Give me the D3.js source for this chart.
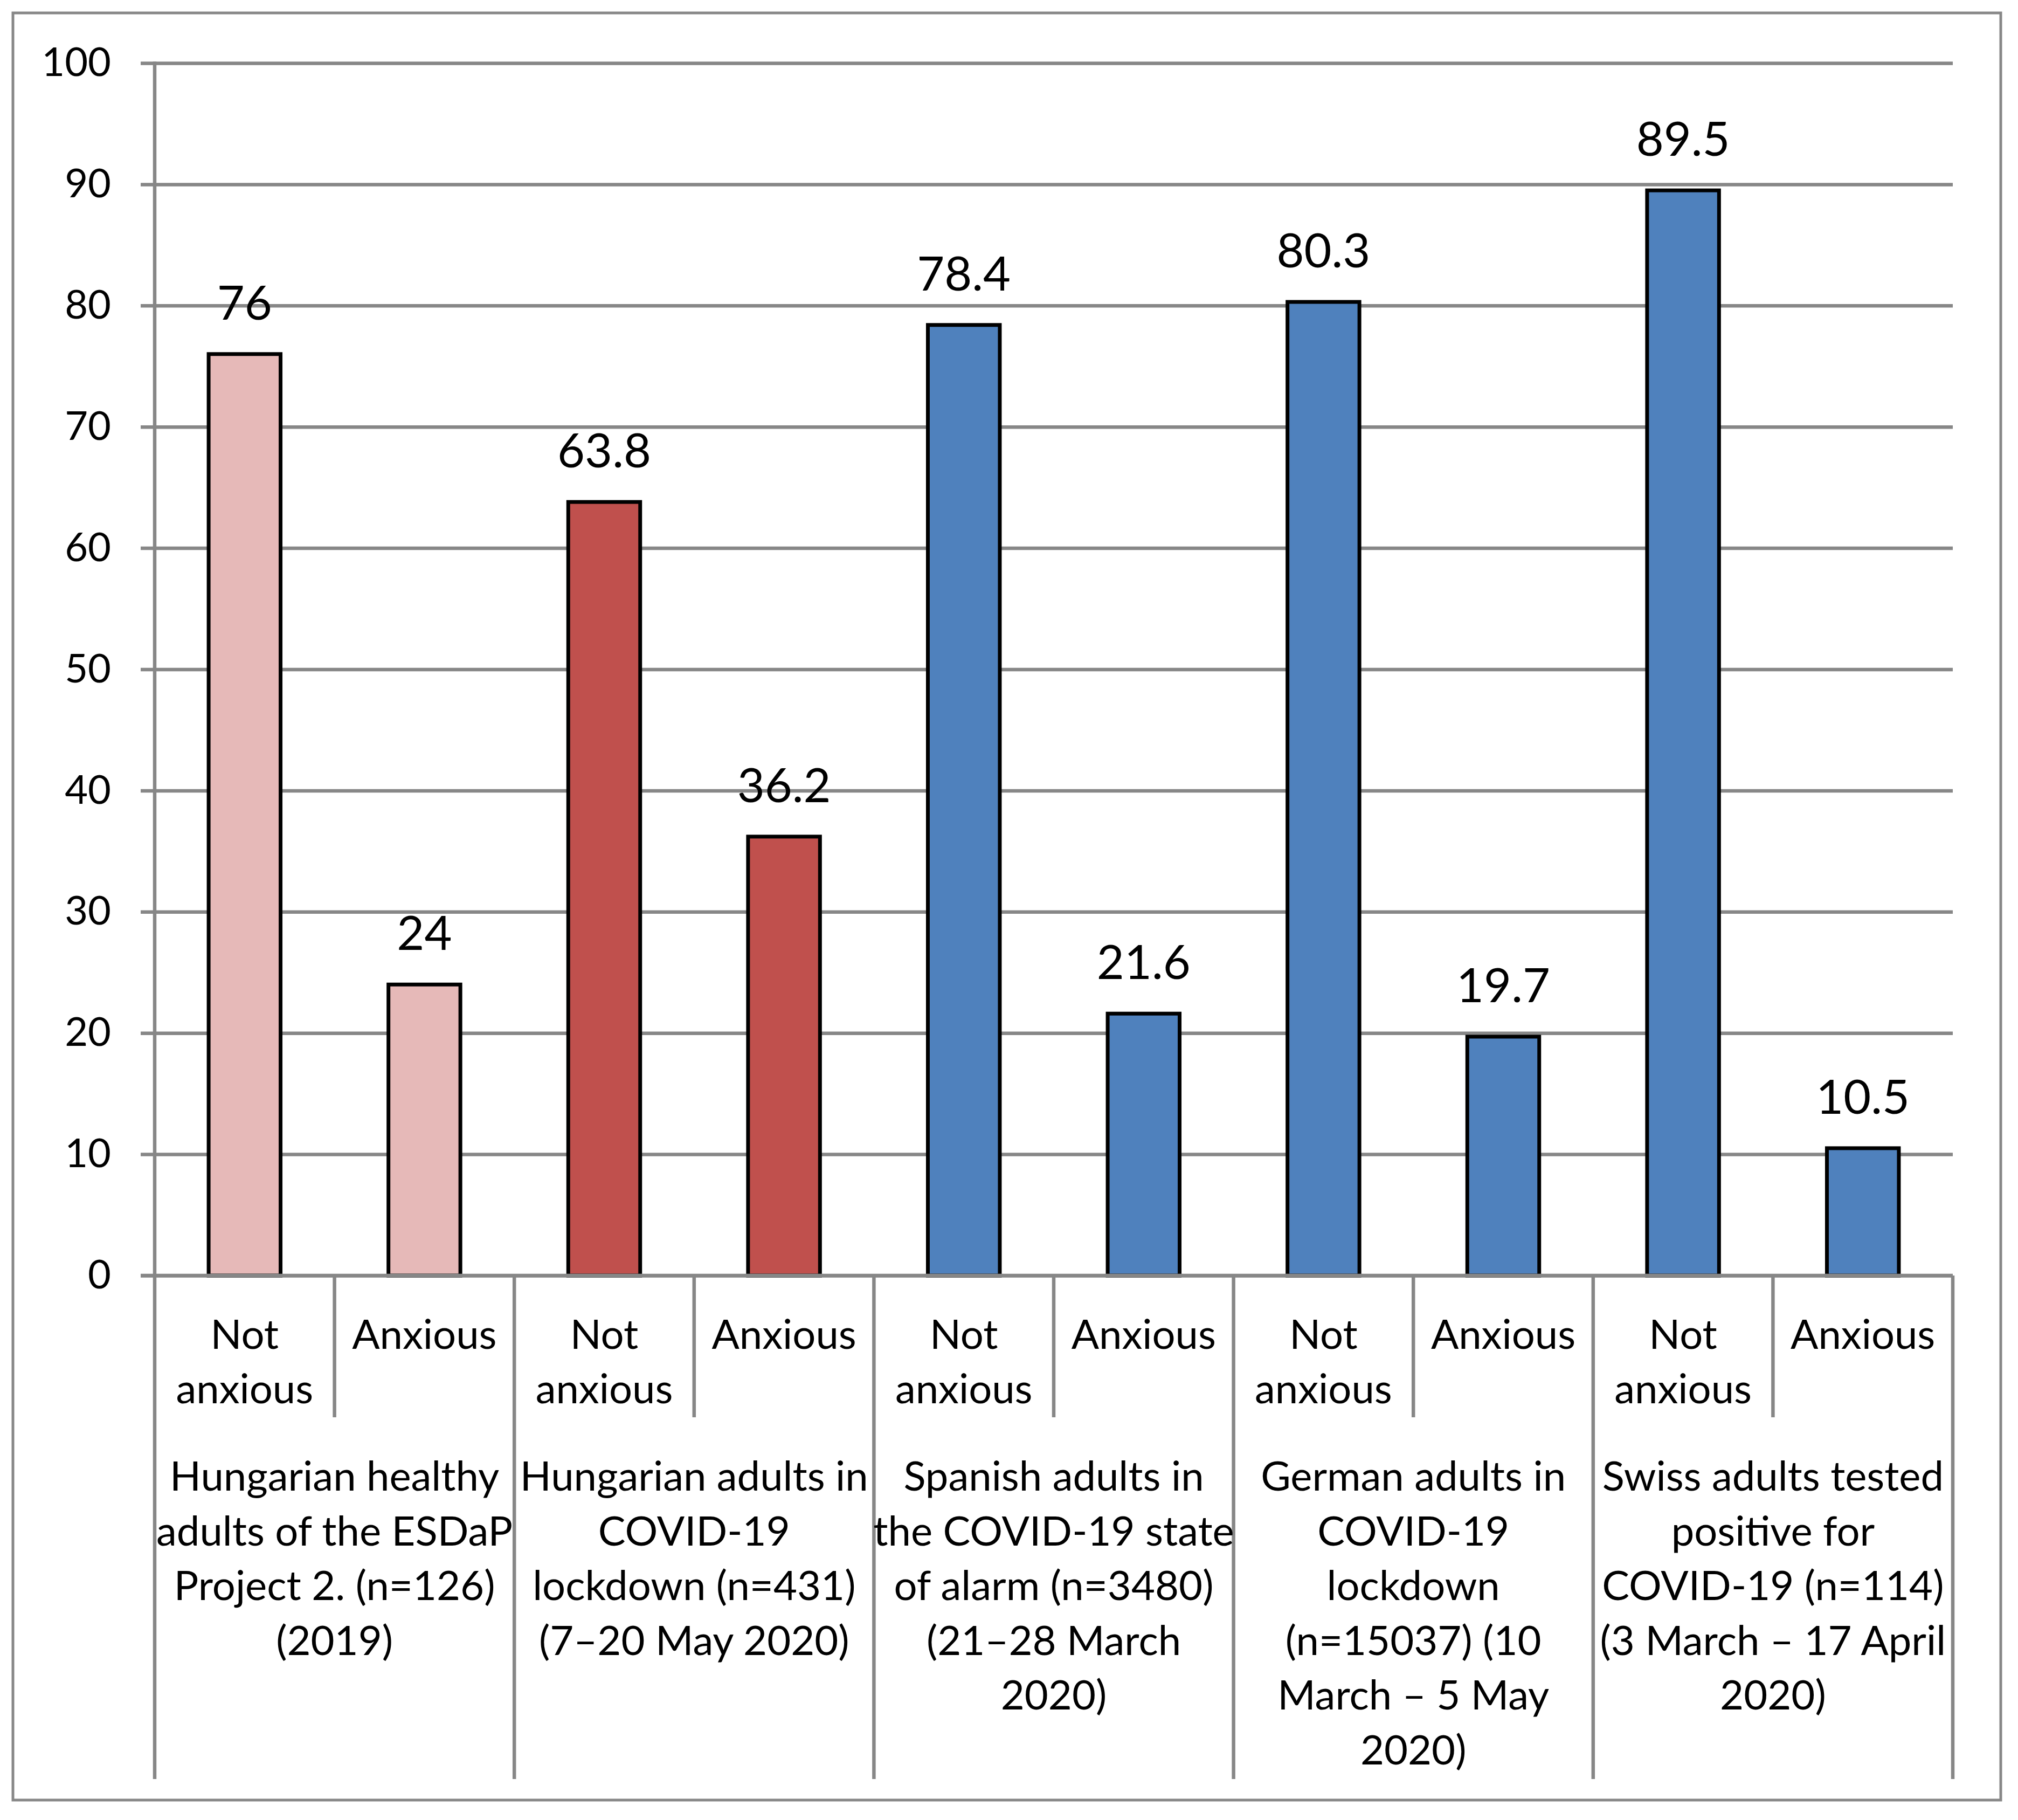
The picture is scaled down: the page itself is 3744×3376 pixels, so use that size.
<!DOCTYPE html>
<html>
<head>
<meta charset="utf-8">
<script src="https://cdn.jsdelivr.net/npm/d3@7"></script>
<style>
  body { margin: 0; background: #fff; }
  text { font-family: Lato, "Open Sans", sans-serif; fill: #000; }
</style>
</head>
<body>
<div id="chart"></div>
<script>
// values (percent)
const groupLines = [
  ["Hungarian healthy", "adults of the ESDaP", "Project 2. (n=126)", "(2019)"],
  ["Hungarian adults in", "COVID-19", "lockdown (n=431)", "(7\u201320 May 2020)"],
  ["Spanish adults in", "the COVID-19 state", "of alarm (n=3480)", "(21\u201328 March", "2020)"],
  ["German adults in", "COVID-19", "lockdown", "(n=15037) (10", "March \u2013 5 May", "2020)"],
  ["Swiss adults tested", "positive for", "COVID-19 (n=114)", "(3 March \u2013 17 April", "2020)"]
];
const subLabels = [["Not", "anxious"], ["Anxious"]];
const notAnxious = [76, 63.8, 78.4, 80.3, 89.5];
const anxious = [24, 36.2, 21.6, 19.7, 10.5];
const yTicks = [0, 10, 20, 30, 40, 50, 60, 70, 80, 90, 100];

const groupColors = ['#E6B9B8', '#C0504D', '#4F81BD', '#4F81BD', '#4F81BD'];

const W = 3744, H = 3376;
const mLeft = 287, mRight = 3623, mTop = 117, mBottom = 2366;
const grey = '#878787';
const fs = 76;

// flatten to 10 bars
const bars = [];
groupLines.forEach((g, i) => {
  bars.push({ g: i, sub: 0, value: notAnxious[i] });
  bars.push({ g: i, sub: 1, value: anxious[i] });
});

const svg = d3.select('#chart').append('svg')
  .attr('width', W)
  .attr('height', H);

svg.append('rect')
  .attr('x', 24).attr('y', 24)
  .attr('width', 3712 - 24).attr('height', 3339 - 24)
  .attr('fill', '#fff')
  .attr('stroke', grey)
  .attr('stroke-width', 5);

const x = d3.scaleBand()
  .domain(d3.range(bars.length))
  .range([mLeft, mRight])
  .paddingInner(0.6)
  .paddingOuter(0.3);

const xg = d3.scaleBand()
  .domain(d3.range(groupLines.length))
  .range([mLeft, mRight]);

const y = d3.scaleLinear()
  .domain([0, 100])
  .range([mBottom, mTop]);

// y axis + gridlines
const tickLen = 26;
const yAxis = svg.append('g')
  .attr('transform', 'translate(' + (mLeft - tickLen) + ',0)')
  .call(d3.axisLeft(y).tickValues(yTicks).tickSize(-(mRight - mLeft + tickLen)).tickPadding(55));
yAxis.select('.domain').remove();
yAxis.selectAll('.tick line').attr('stroke', grey).attr('stroke-width', 6.5);
yAxis.selectAll('.tick text')
  .style('font-size', '74px')
  .attr('fill', '#000');

// category dividers
const cat = svg.append('g').attr('stroke', grey).attr('stroke-width', 6.5);
// y axis line and group separators
cat.selectAll('.gsep')
  .data(d3.range(groupLines.length + 1))
  .join('line')
  .attr('x1', i => i < groupLines.length ? xg(i) : mRight)
  .attr('x2', i => i < groupLines.length ? xg(i) : mRight)
  .attr('y1', i => i === 0 ? mTop - 3 : mBottom)
  .attr('y2', 3300);
cat.selectAll('.ssep')
  .data(d3.range(groupLines.length))
  .join('line')
  .attr('x1', i => xg(i) + xg.bandwidth() / 2)
  .attr('x2', i => xg(i) + xg.bandwidth() / 2)
  .attr('y1', mBottom).attr('y2', 2629);

// bars
svg.append('g').selectAll('rect')
  .data(bars)
  .join('rect')
  .attr('x', (d, i) => x(i))
  .attr('y', d => y(d.value))
  .attr('width', x.bandwidth())
  .attr('height', d => y(0) - y(d.value))
  .attr('fill', d => groupColors[d.g])
  .attr('stroke', '#000')
  .attr('stroke-width', 7);

// baseline over the bar bottoms
svg.append('line')
  .attr('x1', mLeft - tickLen).attr('x2', mRight)
  .attr('y1', mBottom).attr('y2', mBottom)
  .attr('stroke', grey).attr('stroke-width', 6.5);

// value labels
svg.append('g').selectAll('text')
  .data(bars)
  .join('text')
  .attr('x', (d, i) => x(i) + x.bandwidth() / 2)
  .attr('y', d => y(d.value) - 64)
  .attr('text-anchor', 'middle')
  .style('font-size', '88px')
  .text(d => d.value);

// sub labels
svg.append('g').selectAll('text')
  .data(bars)
  .join('text')
  .attr('x', (d, i) => x(i) + x.bandwidth() / 2)
  .attr('y', 2502)
  .attr('text-anchor', 'middle')
  .style('font-size', fs + 'px')
  .selectAll('tspan')
  .data(d => subLabels[d.sub])
  .join('tspan')
  .attr('x', function () { return this.parentNode.getAttribute('x'); })
  .attr('dy', (d, i) => i === 0 ? 0 : 101)
  .text(d => d);

// group labels
svg.append('g').selectAll('text')
  .data(groupLines)
  .join('text')
  .attr('x', (d, i) => xg(i) + xg.bandwidth() / 2)
  .attr('y', 2765)
  .attr('text-anchor', 'middle')
  .style('font-size', fs + 'px')
  .selectAll('tspan')
  .data(d => d)
  .join('tspan')
  .attr('x', function () { return this.parentNode.getAttribute('x'); })
  .attr('dy', (d, i) => i === 0 ? 0 : 101.5)
  .text(d => d);
</script>
</body>
</html>
